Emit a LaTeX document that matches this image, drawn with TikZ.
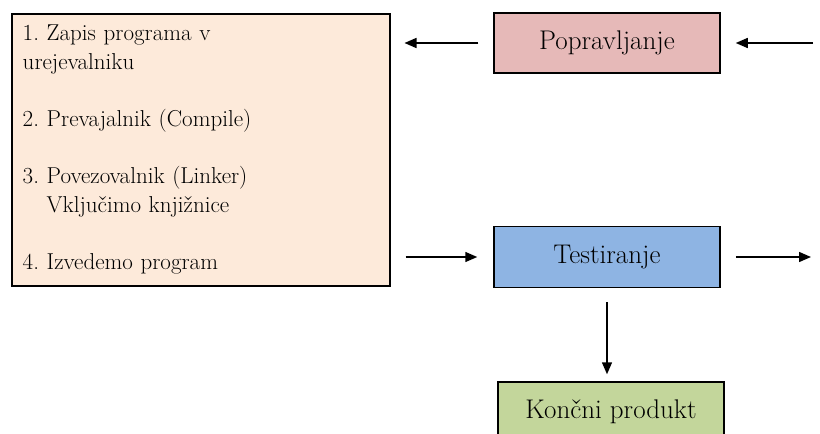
\documentclass[tikz,border=0pt]{standalone}
\usepackage{fontspec}
\usepackage{tikz}
\usetikzlibrary{arrows.meta,positioning}
\definecolor{stepspeach}{RGB}{253,234,218}
\definecolor{fixred}{RGB}{230,185,184}
\definecolor{testblue}{RGB}{142,180,227}
\definecolor{prodgreen}{RGB}{195,214,155}
\frenchspacing

\begin{document}
\begin{tikzpicture}[
    x=1pt,y=-1pt,
    phase/.style={draw,line width=1.5pt,minimum width=226pt,
                  minimum height=60pt,inner sep=0pt,
                  font=\fontsize{27}{32}\selectfont},
    arr/.style={-{Triangle[length=12pt,width=10pt]},line width=1.5pt},
  ]
    \useasboundingbox (0,0) rectangle (820,434);
    \node[draw,line width=1.5pt,fill=stepspeach,anchor=north west,
      minimum width=378pt,minimum height=272pt,text width=356pt,
      inner xsep=11pt,inner ysep=0pt,align=left,
      font=\fontsize{23}{28.6}\selectfont](prog) at (11,13){%
      1. Zapis programa v\\
      urejevalniku\\[28.6pt]
      2. Prevajalnik (Compile)\\[28.6pt]
      3. Povezovalnik (Linker)\\
      \phantom{3. }Vključimo knjižnice\\[28.6pt]
      4. Izvedemo program};
    \node[phase,fill=fixred](pop) at (607,43){Popravljanje};
    \node[phase,fill=testblue,minimum height=61pt,
      below=152pt of pop](test){Testiranje};
    \node[phase,fill=prodgreen,below=93pt of test,
      xshift=4pt](konc){Končni produkt};
    \coordinate (fixin) at (813,43);
    \coordinate (fixout) at (811,256);
    \draw[arr,shorten <=15pt,shorten >=14pt](pop.west)--(prog.east |- pop.west);
    \draw[arr,shorten >=15pt](fixin)--(pop.east);
    \draw[arr,shorten <=15pt,shorten >=16pt](prog.east |- test.west)--(test.west);
    \draw[arr,shorten <=15pt](test.east)--(test.east -| fixout);
    \draw[arr,shorten <=14pt,shorten >=7pt](test.south)--(test.south |- konc.north);
  \end{tikzpicture}
\end{document}
